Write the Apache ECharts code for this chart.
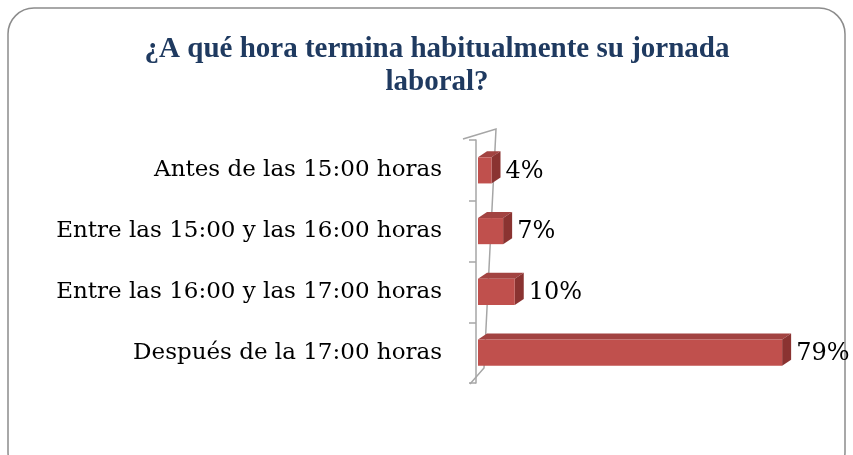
<!DOCTYPE html>
<html>
<head>
<meta charset="utf-8">
<script src="https://cdn.jsdelivr.net/npm/echarts@6/dist/echarts.min.js"></script>
<style>
  html, body { margin: 0; padding: 0; background: #fff; }
  #chart { width: 853px; height: 455px; }
</style>
</head>
<body>
<div id="chart"></div>
<script>
var categories = ['Antes de las 15:00 horas', 'Entre las 15:00 y las 16:00 horas', 'Entre las 16:00 y las 17:00 horas', 'Después de la 17:00 horas'];
var values = [4, 7, 10, 79];

var myChart = echarts.init(document.getElementById('chart'));

// caja 3D: frente, tapa y lateral
function renderBar(params, api) {
  var cat = api.value(0);
  var val = api.value(1);
  var start = api.coord([0, cat]);
  var end = api.coord([val, cat]);
  var h = api.size([0, 1])[1] * 0.43;
  var dx = 9, dy = -6;
  var x0 = start[0] + 2, x1 = end[0], y0 = start[1] - h / 2, y1 = start[1] + h / 2;
  return {
    type: 'group',
    children: [
      { type: 'polygon', shape: { points: [[x0, y0], [x0 + dx, y0 + dy], [x1 + dx, y0 + dy], [x1, y0]] },
        style: { fill: '#A24341' } },
      { type: 'polygon', shape: { points: [[x1, y0], [x1 + dx, y0 + dy], [x1 + dx, y1 + dy], [x1, y1]] },
        style: { fill: '#8A3331' } },
      { type: 'rect', shape: { x: x0, y: y0, width: x1 - x0, height: h },
        style: { fill: '#C0504D' } },
      { type: 'text', x: x1 + dx + 5, y: start[1] + 1,
        style: { text: val + '%', fill: '#000', font: '24px "DejaVu Serif"', textVerticalAlign: 'middle' } }
    ]
  };
}

var option = {
  animation: false,
  title: {
    text: '¿A qué hora termina habitualmente su jornada\nlaboral?',
    left: 432,
    top: 28,
    textAlign: 'center',
    textStyle: { color: '#1F3A60', fontFamily: 'Liberation Serif', fontWeight: 'bold', fontSize: 29, lineHeight: 33 }
  },
  graphic: [
    { type: 'rect', shape: { x: 8, y: 8, width: 837, height: 470, r: 26 },
      style: { fill: 'none', stroke: '#8c8c8c', lineWidth: 1.5 } },
    { type: 'polyline', shape: { points: [[463, 139], [496, 129], [484, 368], [470, 384]] },
      style: { fill: 'none', stroke: '#a6a6a6', lineWidth: 1.5 } }
  ],
  grid: { left: 476, right: 67, top: 140, bottom: 72 },
  xAxis: {
    type: 'value', min: 0, max: 80, show: false
  },
  yAxis: {
    type: 'category',
    data: categories,
    inverse: true,
    offset: 8,
    axisLine: { show: true, lineStyle: { color: '#a6a6a6', width: 1.5 } },
    axisTick: { show: true, length: 7, lineStyle: { color: '#a6a6a6', width: 1.5 } },
    axisLabel: { color: '#000', fontFamily: 'DejaVu Serif', fontSize: 23, margin: 26 }
  },
  series: [{
    type: 'custom',
    renderItem: renderBar,
    encode: { x: 1, y: 0 },
    data: values.map(function (v, i) { return [i, v]; })
  }]
};
myChart.setOption(option);
</script>
</body>
</html>
